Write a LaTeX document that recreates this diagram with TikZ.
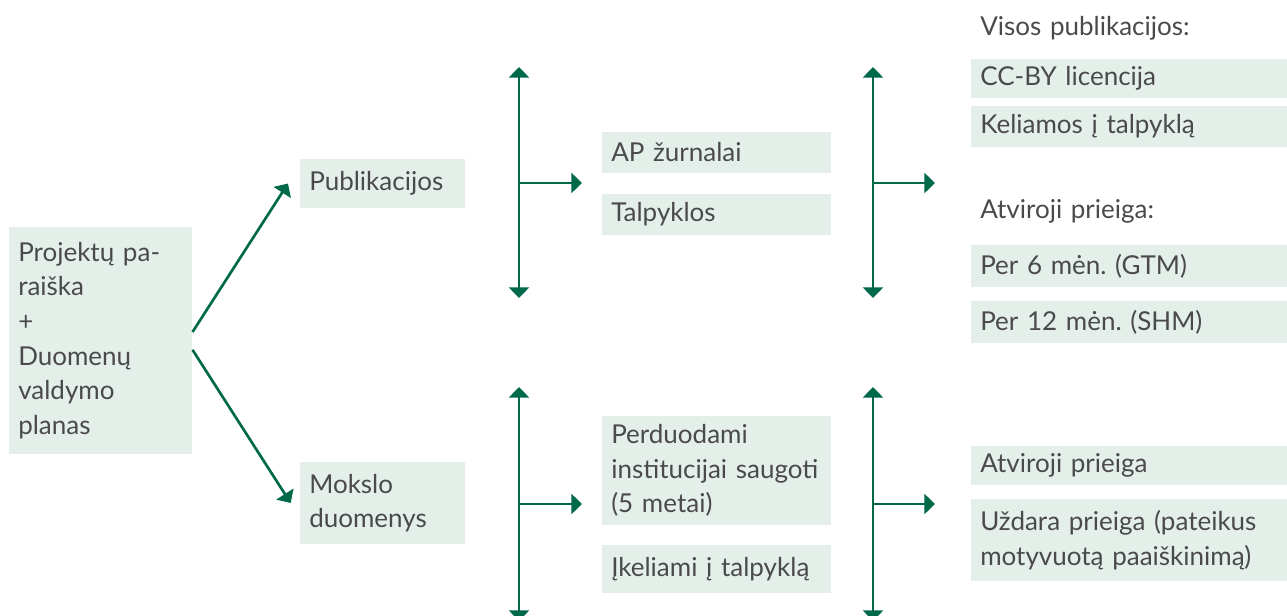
\documentclass[tikz,border=0pt]{standalone}
\usepackage{fontspec}
\setmainfont{Lato}
\frenchspacing
\lineskiplimit=-100pt
\usetikzlibrary{arrows.meta}
\definecolor{zalia}{HTML}{00694A}
\definecolor{fonas}{HTML}{E5EFEA}
\definecolor{tekstas}{HTML}{4A4A4C}
\tikzset{
  deze/.style={fill=fonas, text=tekstas, anchor=west, align=left, inner xsep=6.75pt, inner ysep=0pt,
    font=\fontsize{19.5}{26}\selectfont,
    execute at end node={\par\vskip-11pt}},
  uzrasas/.style={deze, fill=none, text width=223.5pt},
  rodykle/.style={zalia, line width=2pt, -{Triangle[width=15pt,length=8pt]}},
  dviguba/.style={zalia, line width=2pt, {Triangle[width=15pt,length=8pt]}-{Triangle[width=15pt,length=8pt]}}
}
\begin{document}
\begin{tikzpicture}[x=0.75pt,y=-0.75pt]
  \useasboundingbox (0,0) rectangle (1287,615);
  \node[deze, text width=123.75pt, minimum height=170.25pt] (paraiska) at (9,340.5)
    {Projektų pa-\\raiška\\+\\Duomenų\\valdymo\\planas};
  \node[deze, text width=110.25pt, minimum height=36.75pt] (publ) at (300,183.5) {Publikacijos};
  \node[deze, text width=110.25pt, minimum height=61.5pt] (mokslo) at (300,503) {Mokslo\\duomenys};
  \draw[rodykle] ([yshift=6.4pt]paraiska.east) -- ([xshift=-9pt]publ.west);
  \draw[rodykle] ([yshift=-7pt]paraiska.east) -- ([xshift=-7pt]mokslo.west);

  \node[deze, text width=158.25pt, minimum height=30.75pt] (ap) at (602,152.5) {AP žurnalai};
  \node[deze, text width=158.25pt, minimum height=30.75pt] (talp) at (602,214.5) {Talpyklos};
  \node[deze, text width=158.25pt, minimum height=81.75pt] (perd) at (602,470.5)
    {Perduodami\\institucijai saugoti\\(5 metai)};
  \node[deze, text width=158.25pt, minimum height=36pt] (ikel) at (602,569) {Įkeliami į talpyklą};

  \coordinate (v1t) at (519,67);  \coordinate (v1b) at (519,298);  \coordinate (v1m) at (519,183);
  \coordinate (v2t) at (873,67);  \coordinate (v2b) at (873,298);  \coordinate (v2m) at (873,183);
  \coordinate (v3t) at (519,387); \coordinate (v3b) at (519,621);  \coordinate (v3m) at (519,504);
  \coordinate (v4t) at (873,387); \coordinate (v4b) at (873,621);  \coordinate (v4m) at (873,504);
  \draw[dviguba] (v1b) -- (v1t);
  \draw[dviguba] (v2b) -- (v2t);
  \draw[dviguba] (v3b) -- (v3t);
  \draw[dviguba] (v4b) -- (v4t);
  \draw[rodykle] (v1m) -- (582,183);
  \draw[rodykle] (v2m) -- (935,183);
  \draw[rodykle] (v3m) -- (582,504);
  \draw[rodykle] (v4m) -- (935,504);

  \node[uzrasas] (visos) at (971,28) {Visos publikacijos:};
  \node[deze, text width=223.5pt, minimum height=29.25pt] (ccby) at (971,78) {CC-BY licencija};
  \node[deze, text width=223.5pt, minimum height=30.75pt] (kel) at (971,126.5) {Keliamos į talpyklą};
  \node[uzrasas] (atv) at (971,211) {Atviroji prieiga:};
  \node[deze, text width=223.5pt, minimum height=31.5pt] (per6) at (971,266) {Per 6 mėn. (GTM)};
  \node[deze, text width=223.5pt, minimum height=31.5pt] (per12) at (971,322) {Per 12 mėn. (SHM)};
  \node[deze, text width=223.5pt, minimum height=29.25pt] (atvp) at (971,465) {Atviroji prieiga};
  \node[deze, text width=223.5pt, minimum height=61.5pt] (uzd) at (971,540)
    {Uždara prieiga (pateikus\\motyvuotą paaiškinimą)};
\end{tikzpicture}
\end{document}
